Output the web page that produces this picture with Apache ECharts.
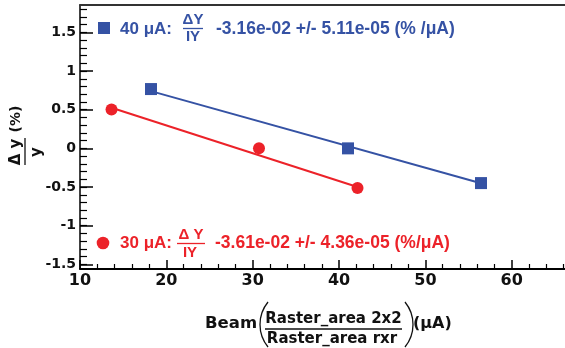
<!DOCTYPE html>
<html>
<head>
<meta charset="utf-8">
<script src="https://cdn.jsdelivr.net/npm/echarts@6/dist/echarts.min.js"></script>
<style>html,body{margin:0;padding:0;background:#fff;}#c{width:565px;height:348px;}</style>
</head>
<body>
<div id="c"></div>
<script>
// ---- data ----
const xMajorTicks = [10, 20, 30, 40, 50, 60];
const xMinorTicks = [12, 14, 16, 18, 22, 24, 26, 28, 32, 34, 36, 38, 42, 44, 46, 48, 52, 54, 56, 58, 62, 64, 66];
const yMajorTicks = [-1.5, -1, -0.5, 0, 0.5, 1, 1.5];
const yMinorTicks = [-1.5, -1.4, -1.3, -1.2, -1.1, -1.0, -0.9, -0.8, -0.7, -0.6, -0.5, -0.4, -0.3, -0.2, -0.1, 0, 0.1, 0.2, 0.3, 0.4, 0.5, 0.6, 0.7, 0.8, 0.9, 1.0, 1.1, 1.2, 1.3, 1.4, 1.5, 1.6, 1.7, 1.8];

const blueX = [18.22, 41.04, 56.44];
const blueY = [0.767, 0.0, -0.449];
const redX = [13.65, 30.73, 42.14];
const redY = [0.502, 0.0, -0.514];
const blueFitX = [18.22, 56.44];
const blueFitY = [0.74, -0.45];
const redFitX = [13.65, 42.14];
const redFitY = [0.525, -0.50];

const blueLabel = '40 μA:';
const blueFracTop = 'ΔY';
const blueFracBottom = 'IY';
const blueResult = '-3.16e-02 +/- 5.11e-05 (% /μA)';
const redLabel = '30 μA:';
const redFracTop = 'Δ Y';
const redFracBottom = 'IY';
const redResult = '-3.61e-02 +/- 4.36e-05 (%/μA)';

const xTitleLeft = 'Beam';
const xTitleNum = 'Raster_area 2x2';
const xTitleDen = 'Raster_area rxr';
const xTitleRight = '(μA)';
const yTitleNum = 'Δ y';
const yTitleDen = 'y';
const yTitleUnit = '(%)';

// ---- style ----
const BLUE = '#3552a4';
const RED = '#ec2229';
const INK = '#111';
const DJ = '"DejaVu Sans", sans-serif';
const LIB = '"Liberation Sans", Arial, sans-serif';

const X_MIN = 10, X_MAX = 66.17, Y_MIN = -1.56, Y_MAX = 1.854;

const zip = (xs, ys) => xs.map((x, i) => [x, ys[i]]);

const chart = echarts.init(document.getElementById('c'), null, {renderer: 'canvas'});

function txt(x, y, text, opts) {
  return {
    type: 'text', x: x, y: y, z: 100,
    style: Object.assign({
      text: text, fill: INK, fontFamily: DJ, fontWeight: 'bold', fontSize: 15,
      align: 'left', verticalAlign: 'middle'
    }, opts || {})
  };
}
function hline(x1, x2, y, color, w) {
  return {type: 'line', z: 100, shape: {x1: x1, y1: y, x2: x2, y2: y}, style: {stroke: color, lineWidth: w || 1.3}};
}

const parenR = 35.6, parenHalf = 0.684;
const gridBox = {left: 80, right: 0, top: 5, bottom: 79, containLabel: false};

const option = {
  animation: false,
  backgroundColor: '#fff',
  grid: [Object.assign({}, gridBox), Object.assign({}, gridBox)],
  xAxis: [
    {
      gridIndex: 0, type: 'value', min: X_MIN, max: X_MAX, position: 'bottom',
      axisLine: {show: true, onZero: false, lineStyle: {color: '#000', width: 2}},
      axisTick: {show: true, inside: true, length: 9, customValues: xMajorTicks, lineStyle: {color: '#000', width: 1.5}},
      axisLabel: {show: true, customValues: xMajorTicks, margin: 4, color: INK, fontFamily: DJ, fontWeight: 'bold', fontSize: 16},
      splitLine: {show: false}
    },
    {
      gridIndex: 0, type: 'value', min: X_MIN, max: X_MAX, position: 'top',
      axisLine: {show: true, onZero: false, lineStyle: {color: '#333', width: 2}},
      axisTick: {show: false}, axisLabel: {show: false}, splitLine: {show: false}
    },
    {
      gridIndex: 1, type: 'value', min: X_MIN, max: X_MAX, position: 'bottom',
      axisLine: {show: false, onZero: false},
      axisTick: {show: true, inside: true, length: 5, customValues: xMinorTicks, lineStyle: {color: '#000', width: 1.2}},
      axisLabel: {show: false},
      splitLine: {show: false}
    }
  ],
  yAxis: [
    {
      gridIndex: 0, type: 'value', min: Y_MIN, max: Y_MAX, position: 'left',
      axisLine: {show: true, onZero: false, lineStyle: {color: '#000', width: 1.5}},
      axisTick: {show: true, inside: true, length: 13, customValues: yMajorTicks, lineStyle: {color: '#000', width: 1.5}},
      axisLabel: {show: true, customValues: yMajorTicks, margin: 4, color: INK, fontFamily: DJ, fontWeight: 'bold', fontSize: 14},
      splitLine: {show: false}
    },
    {
      gridIndex: 1, type: 'value', min: Y_MIN, max: Y_MAX, position: 'left',
      axisLine: {show: false, onZero: false},
      axisTick: {show: true, inside: true, length: 7, customValues: yMinorTicks, lineStyle: {color: '#000', width: 1.2}},
      axisLabel: {show: false},
      splitLine: {show: false}
    }
  ],
  series: [
    {type: 'line', xAxisIndex: 0, yAxisIndex: 0, data: zip(blueFitX, blueFitY), showSymbol: false, symbol: 'none',
     lineStyle: {color: BLUE, width: 2}, z: 2, silent: true},
    {type: 'line', xAxisIndex: 0, yAxisIndex: 0, data: zip(redFitX, redFitY), showSymbol: false, symbol: 'none',
     lineStyle: {color: RED, width: 2}, z: 2, silent: true},
    {type: 'scatter', xAxisIndex: 0, yAxisIndex: 0, data: zip(blueX, blueY), symbol: 'rect', symbolSize: 12,
     itemStyle: {color: BLUE, opacity: 1}, z: 5},
    {type: 'scatter', xAxisIndex: 0, yAxisIndex: 0, data: zip(redX, redY), symbol: 'circle', symbolSize: 12,
     itemStyle: {color: RED, opacity: 1}, z: 5}
  ],
  graphic: [
    // blue legend
    {type: 'rect', z: 100, shape: {x: 98, y: 22, width: 12, height: 12}, style: {fill: BLUE}},
    txt(120, 29.5, blueLabel, {fill: BLUE, fontFamily: LIB, fontSize: 17}),
    txt(193, 20, blueFracTop, {fill: BLUE, fontFamily: LIB, fontSize: 15, align: 'center'}),
    hline(183, 203, 28.5, BLUE, 1.3),
    txt(193, 37, blueFracBottom, {fill: BLUE, fontFamily: LIB, fontSize: 15, align: 'center'}),
    txt(216, 29.5, blueResult, {fill: BLUE, fontFamily: LIB, fontSize: 17.5}),
    // red legend
    {type: 'circle', z: 100, shape: {cx: 103, cy: 243, r: 6.3}, style: {fill: RED}},
    txt(120, 243, redLabel, {fill: RED, fontFamily: LIB, fontSize: 17}),
    txt(191, 235, redFracTop, {fill: RED, fontFamily: LIB, fontSize: 15, align: 'center'}),
    hline(177, 205, 243.5, RED, 1.3),
    txt(190, 253, redFracBottom, {fill: RED, fontFamily: LIB, fontSize: 15, align: 'center'}),
    txt(215, 243, redResult, {fill: RED, fontFamily: LIB, fontSize: 17.5}),
    // x title
    txt(205, 324, xTitleLeft, {fontSize: 16.5}),
    {type: 'arc', z: 100, shape: {cx: 260 + parenR, cy: 324.5, r: parenR, startAngle: Math.PI - parenHalf, endAngle: Math.PI + parenHalf, clockwise: true},
     style: {stroke: INK, lineWidth: 1.3, fill: null}},
    txt(333.5, 319.5, xTitleNum, {align: 'center'}),
    hline(265, 402, 329, INK, 1.3),
    txt(332, 339.5, xTitleDen, {align: 'center'}),
    {type: 'arc', z: 100, shape: {cx: 413 - parenR, cy: 324.5, r: parenR, startAngle: -parenHalf, endAngle: parenHalf, clockwise: true},
     style: {stroke: INK, lineWidth: 1.3, fill: null}},
    txt(413, 324, xTitleRight, {fontSize: 16}),
    // y title (rotated)
    {
      type: 'group', x: 25, y: 152, rotation: Math.PI / 2, z: 100,
      children: [
        txt(0, -9, yTitleNum, {align: 'center'}),
        {type: 'line', z: 100, shape: {x1: -13, y1: 0, x2: 14, y2: 0}, style: {stroke: INK, lineWidth: 1.3}},
        txt(0, 12, yTitleDen, {align: 'center'}),
        txt(33, -9, yTitleUnit, {align: 'center', fontSize: 14})
      ]
    }
  ]
};
chart.setOption(option);
</script>
</body>
</html>
